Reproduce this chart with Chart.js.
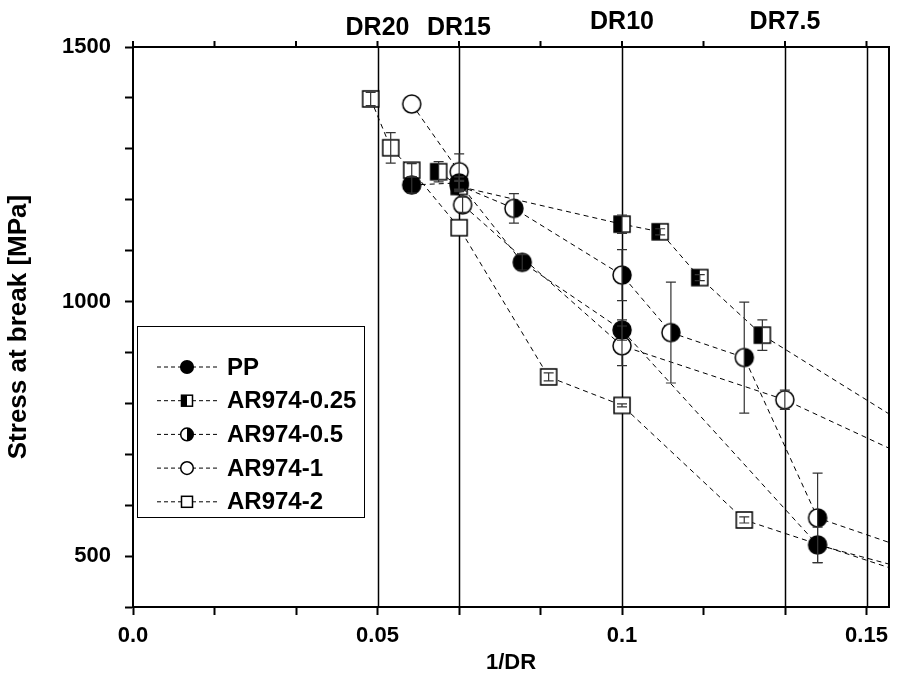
<!DOCTYPE html>
<html>
<head>
<meta charset="utf-8">
<title>Stress at break vs 1/DR</title>
<script src="https://cdn.jsdelivr.net/npm/chart.js@4.4.1/dist/chart.umd.min.js"></script>
<style>
	html, body { margin: 0; padding: 0; background: #fff; }
	#chart { display: block; }
</style>
</head>
<body>
<canvas id="chart" width="899" height="677"></canvas>
<script>
// axis ticks (one minor tick every 1/60)
const xTicks = [0, 1 / 60, 2 / 60, 3 / 60, 4 / 60, 5 / 60, 6 / 60, 7 / 60, 8 / 60, 9 / 60];
const xTickLabels = ["0.0", "", "", "0.05", "", "", "0.1", "", "", "0.15"];
const yTicks = [400, 500, 600, 700, 800, 900, 1000, 1100, 1200, 1300, 1400, 1500];
const yTickLabels = ["", "500", "", "", "", "", "1000", "", "", "", "", "1500"];

// draw ratio reference lines
const drValues = [0.05, 1 / 15, 0.1, 1 / 7.5, 0.15];
const drLabels = ["DR20", "DR15", "DR10", "DR7.5", ""];

// series (last point of each lies past the right edge, only its line shows)
const ppX = [0.057, 0.0667, 0.0796, 0.1, 0.14, 0.1667];
const ppY = [1229, 1233, 1077, 944, 522, 453];
const ppErr = [16, 12, 15, 20, 35, 0];

const ar025X = [0.0625, 0.0667, 0.1, 0.1078, 0.1159, 0.1287, 0.1667];
const ar025Y = [1255, 1226, 1152, 1137, 1047, 934, 707];
const ar025Err = [20, 10, 18, 6, 6, 30, 0];

const ar05X = [0.0667, 0.0779, 0.1, 0.11, 0.125, 0.14, 0.1667];
const ar05Y = [1228, 1183, 1052, 939, 890, 575, 487];
const ar05Err = [10, 29, 50, 99, 109, 88, 0];

const ar1X = [0.057, 0.0667, 0.0674, 0.1, 0.1333, 0.1667];
const ar1Y = [1388, 1255, 1190, 913, 807, 658];
const ar1Err = [0, 35, 15, 39, 19, 0];

const ar2X = [0.0486, 0.0527, 0.057, 0.0667, 0.085, 0.1, 0.125, 0.1667];
const ar2Y = [1398, 1302, 1258, 1145, 852, 796, 571, 439];
const ar2Err = [13, 30, 13, 0, 8, 3, 6, 0];

const seriesNames = ["PP", "AR974-0.25", "AR974-0.5", "AR974-1", "AR974-2"];
const markerKinds = ["circleFilled", "squareHalf", "circleHalf", "circleOpen", "squareOpen"];

const FONT = "'Liberation Sans', Arial, sans-serif";

// draw one marker shape, s = half size
function drawMarker(ctx, kind, x, y, s) {
	ctx.save();
	ctx.lineWidth = 1.5;
	ctx.strokeStyle = "#000";
	if (kind.startsWith("circle")) {
		ctx.beginPath();
		ctx.arc(x, y, s, 0, Math.PI * 2);
		ctx.fillStyle = kind === "circleFilled" ? "#000" : "#fff";
		ctx.fill();
		if (kind === "circleHalf") {
			ctx.beginPath();
			ctx.moveTo(x, y - s);
			ctx.arc(x, y, s, -Math.PI / 2, Math.PI / 2);
			ctx.closePath();
			ctx.fillStyle = "#000";
			ctx.fill();
		}
		ctx.beginPath();
		ctx.arc(x, y, s, 0, Math.PI * 2);
		ctx.stroke();
	} else {
		ctx.fillStyle = "#fff";
		ctx.fillRect(x - s, y - s, 2 * s, 2 * s);
		if (kind === "squareHalf") {
			ctx.fillStyle = "#000";
			ctx.fillRect(x - s, y - s, s, 2 * s);
		}
		ctx.strokeRect(x - s, y - s, 2 * s, 2 * s);
	}
	ctx.restore();
}

function markerImage(kind, s) {
	const c = document.createElement("canvas");
	const size = Math.ceil(2 * s + 4);
	c.width = size;
	c.height = size;
	drawMarker(c.getContext("2d"), kind, size / 2, size / 2, s);
	return c;
}

const seriesList = [
	{ x: ppX, y: ppY, err: ppErr },
	{ x: ar025X, y: ar025Y, err: ar025Err },
	{ x: ar05X, y: ar05Y, err: ar05Err },
	{ x: ar1X, y: ar1Y, err: ar1Err },
	{ x: ar2X, y: ar2Y, err: ar2Err },
];

const datasets = seriesList.map((s, i) => {
	const kind = markerKinds[i];
	const half = kind.startsWith("circle") ? 9 : 8;
	return {
		label: seriesNames[i],
		data: s.x.map((xv, j) => ({ x: xv, y: s.y[j] })),
		showLine: true,
		borderColor: "#000",
		borderWidth: 1,
		borderDash: [5, 4],
		pointStyle: markerImage(kind, half),
		pointRadius: half,
		pointHoverRadius: half,
	};
});

// vertical DR lines, error bars, frame, top ticks, labels and legend
const decorations = {
	id: "decorations",
	beforeDatasetsDraw(chart) {
		const { ctx, chartArea, scales } = chart;
		ctx.save();
		ctx.strokeStyle = "#000";
		ctx.lineWidth = 1.5;
		drValues.forEach((v) => {
			const px = Math.round(scales.x.getPixelForValue(v)) + 0.5;
			ctx.beginPath();
			ctx.moveTo(px, chartArea.top);
			ctx.lineTo(px, chartArea.bottom);
			ctx.stroke();
		});
		ctx.restore();
	},
	afterDatasetsDraw(chart) {
		const { ctx, chartArea, scales } = chart;
		const { x, y } = scales;

		ctx.save();
		ctx.beginPath();
		ctx.rect(chartArea.left, chartArea.top, chartArea.right - chartArea.left, chartArea.bottom - chartArea.top);
		ctx.clip();
		ctx.strokeStyle = "#333";
		ctx.lineWidth = 1.2;
		seriesList.forEach((s) => {
			s.x.forEach((xv, i) => {
				const e = s.err[i];
				if (!e) return;
				const px = x.getPixelForValue(xv);
				const top = y.getPixelForValue(s.y[i] + e);
				const bot = y.getPixelForValue(s.y[i] - e);
				ctx.beginPath();
				ctx.moveTo(px, top);
				ctx.lineTo(px, bot);
				ctx.moveTo(px - 5, top);
				ctx.lineTo(px + 5, top);
				ctx.moveTo(px - 5, bot);
				ctx.lineTo(px + 5, bot);
				ctx.stroke();
			});
		});
		ctx.restore();

		// frame and top ticks
		ctx.save();
		ctx.strokeStyle = "#000";
		ctx.lineWidth = 2;
		ctx.strokeRect(chartArea.left, chartArea.top, chartArea.right - chartArea.left, chartArea.bottom - chartArea.top);
		xTicks.forEach((v) => {
			const px = x.getPixelForValue(v);
			ctx.beginPath();
			ctx.moveTo(px, chartArea.top);
			ctx.lineTo(px, chartArea.top - 6);
			ctx.stroke();
		});

		// DR labels above the plot
		ctx.fillStyle = "#000";
		ctx.font = "bold 25px " + FONT;
		ctx.textAlign = "center";
		ctx.textBaseline = "middle";
		drLabels.forEach((t, i) => {
			if (!t) return;
			const px = x.getPixelForValue(drValues[i]);
			const py = drValues[i] < 0.09 ? 28 : 22;
			ctx.fillText(t, px, py);
		});

		// legend box
		const lx = chartArea.left + 4;
		const ly = 326;
		ctx.fillStyle = "#fff";
		ctx.fillRect(lx, ly, 227, 191);
		ctx.lineWidth = 1;
		ctx.strokeRect(lx + 0.5, ly + 0.5, 227, 191);
		ctx.font = "bold 24px " + FONT;
		ctx.textAlign = "left";
		seriesNames.forEach((name, i) => {
			const ry = ly + 41 + i * 33.7;
			ctx.save();
			ctx.setLineDash([4, 3]);
			ctx.lineWidth = 1;
			ctx.beginPath();
			ctx.moveTo(lx + 20, ry);
			ctx.lineTo(lx + 81, ry);
			ctx.stroke();
			ctx.restore();
			const kind = markerKinds[i];
			drawMarker(ctx, kind, lx + 50, ry, kind.startsWith("circle") ? 6.3 : 5.5);
			ctx.fillStyle = "#000";
			ctx.fillText(name, lx + 90, ry + 1);
		});
		ctx.restore();
	},
};

const tickFont = { family: FONT, size: 22, weight: "bold" };

new Chart(document.getElementById("chart").getContext("2d"), {
	type: "scatter",
	data: { datasets: datasets },
	options: {
		responsive: false,
		animation: false,
		events: [],
		layout: { padding: { top: 47, right: 9, left: 0, bottom: 0 } },
		plugins: {
			legend: { display: false },
			tooltip: { enabled: false },
		},
		scales: {
			x: {
				type: "linear",
				min: 0,
				max: 0.1546,
				afterBuildTicks: (scale) => {
					scale.ticks = xTicks.map((v) => ({ value: v }));
				},
				afterFit: (scale) => {
					scale.height = 70;
				},
				ticks: {
					autoSkip: false,
					maxRotation: 0,
					padding: 8,
					color: "#000",
					font: tickFont,
					callback: (value, index) => xTickLabels[index],
				},
				grid: { drawOnChartArea: false, drawTicks: true, tickLength: 8, tickWidth: 2, tickColor: "#000" },
				border: { display: true, color: "#000", width: 2 },
				title: { display: true, text: "1/DR", color: "#000", font: tickFont, padding: { top: 0, bottom: 1 } },
			},
			y: {
				type: "linear",
				min: 400,
				max: 1500,
				afterBuildTicks: (scale) => {
					scale.ticks = yTicks.map((v) => ({ value: v }));
				},
				afterFit: (scale) => {
					scale.width = 133;
				},
				ticks: {
					autoSkip: false,
					padding: 14,
					color: "#000",
					font: tickFont,
					callback: (value, index) => yTickLabels[index],
				},
				grid: { drawOnChartArea: false, drawTicks: true, tickLength: 8, tickWidth: 2, tickColor: "#000" },
				border: { display: true, color: "#000", width: 2 },
				title: { display: true, text: "Stress at break [MPa]", color: "#000", font: { family: FONT, size: 26, weight: "bold" }, padding: { top: 3, bottom: 0 } },
			},
		},
	},
	plugins: [decorations],
});
</script>
</body>
</html>
